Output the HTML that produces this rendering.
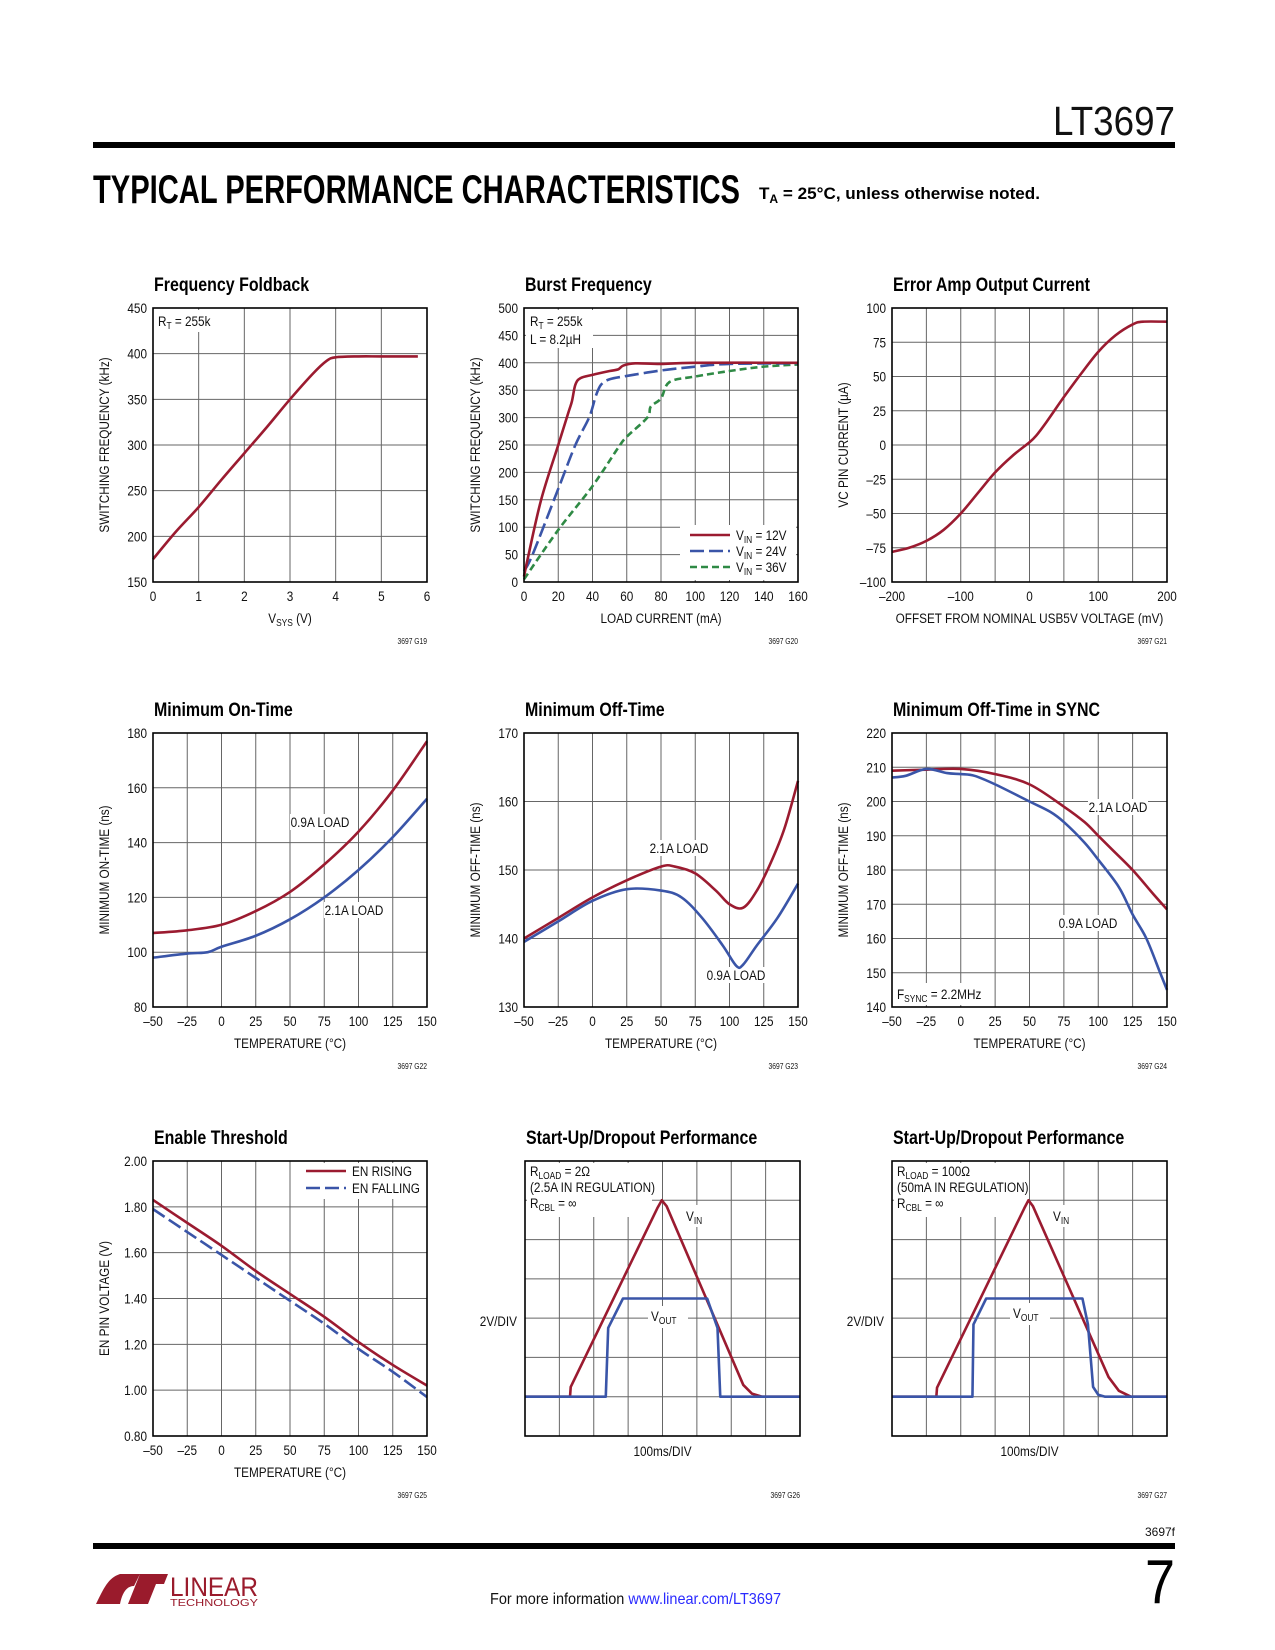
<!DOCTYPE html>
<html><head><meta charset="utf-8"><style>
html,body{margin:0;padding:0;background:#fff;}
svg{display:block;font-family:"Liberation Sans Narrow","Liberation Sans",sans-serif;}
</style></head><body>
<svg id="page" xmlns="http://www.w3.org/2000/svg" width="1275" height="1650" viewBox="0 0 1275 1650">
<rect x="0" y="0" width="1275" height="1650" fill="#fff"/>
<text x="1175" y="135" font-size="41" text-anchor="end" fill="#111" textLength="122" lengthAdjust="spacingAndGlyphs">LT3697</text>
<rect x="93" y="142" width="1082" height="6" fill="#000"/>
<text x="93" y="203" font-size="40" font-weight="bold" textLength="647" lengthAdjust="spacingAndGlyphs" fill="#000">TYPICAL PERFORMANCE CHARACTERISTICS</text>
<text x="759" y="199" font-size="17" font-weight="bold" fill="#000" textLength="281" lengthAdjust="spacingAndGlyphs">T<tspan dy="4" font-size="12">A</tspan><tspan dy="-4"> = 25°C, unless otherwise noted.</tspan></text>
<text x="1175" y="1536" font-size="12" text-anchor="end" fill="#111" textLength="30" lengthAdjust="spacingAndGlyphs">3697f</text>
<rect x="93" y="1543" width="1082" height="6" fill="#000"/>
<text x="1175" y="1603" font-size="62" text-anchor="end" fill="#000" textLength="30" lengthAdjust="spacingAndGlyphs">7</text>
<text x="490" y="1604" font-size="16" fill="#111" textLength="291" lengthAdjust="spacingAndGlyphs">For more information <tspan fill="#2a2aff">www.linear.com/LT3697</tspan></text>
<g>
<path d="M96,1604 C104,1588 108,1578 120,1574 L140,1574 L134,1586 C126,1586 122,1594 120,1604 Z M128,1604 L140,1574 L168,1574 L164,1584 L156,1584 L148,1604 Z" fill="#9a1b2c"/>
<text x="170" y="1596" font-size="27" fill="#9a1b2c" textLength="88" lengthAdjust="spacingAndGlyphs">LINEAR</text>
<text x="170" y="1606" font-size="10" fill="#9a1b2c" textLength="88" lengthAdjust="spacingAndGlyphs">TECHNOLOGY</text>
</g>
</svg>
<script>
// ---------- data ----------
const c1X=[0,0.5,1,1.5,2,2.5,3,3.5,3.8,4,4.5,5,5.8];
const c1Y=[175,205,232,262,291,320,350,378,392,396,397,397,397];
const c1XTicks=[0,1,2,3,4,5,6];
const c1YTicks=[150,200,250,300,350,400,450];

const c2X12=[0,2,10,20,26,28,30,33,40,50,55,58,65,80,100,160];
const c2Y12=[10,40,150,250,310,330,360,372,378,385,388,395,399,398,400,400];
const c2X24=[0,5,20,30,38,42,45,50,60,80,100,120,160];
const c2Y24=[20,50,170,250,300,340,360,370,376,386,393,398,399];
const c2X36=[0,20,40,55,60,72,74,80,85,100,120,140,160];
const c2Y36=[5,95,175,245,265,300,320,335,365,375,385,393,397];
const c2XTicks=[0,20,40,60,80,100,120,140,160];
const c2YTicks=[0,50,100,150,200,250,300,350,400,450,500];

const c3X=[-200,-175,-150,-125,-100,-75,-50,-25,0,10,25,50,75,100,125,150,165,200];
const c3Y=[-78,-75,-70,-62,-50,-35,-20,-8,2,7,17,35,52,68,80,88,90,90];
const c3XTicks=[-200,-100,0,100,200];
const c3YTicks=[-100,-75,-50,-25,0,25,50,75,100];

const tempX=[-50,-25,0,25,50,75,100,125,150];
const c4Red=[107,108,110,115,122,132,144,159,177];
const c4BlueX=[-50,-25,-10,0,25,50,75,100,125,150];
const c4Blue=[98,99.5,100,102,106,112,120,130,142,156];
const c4YTicks=[80,100,120,140,160,180];

const c5RedX=[-50,-25,0,25,50,60,75,90,100,110,120,130,140,150];
const c5Red=[140,143,146,148.5,150.5,150.5,149.5,147,145,144.5,147,151,156,163];
const c5BlueX=[-50,-25,0,25,50,65,80,95,105,110,120,135,150];
const c5Blue=[139.5,142.5,145.5,147.2,147,146,143,139,136,136.2,139,143,148];
const c5YTicks=[130,140,150,160,170];

const c6RedX=[-50,-25,0,25,50,75,90,100,110,125,140,150];
const c6Red=[209,209.3,209.5,208,205,198.5,194,190,186,180,173,168.5];
const c6BlueX=[-50,-40,-25,-10,0,10,25,50,65,75,90,100,115,125,135,145,150];
const c6Blue=[207,207.5,209.5,208.3,208,207.5,205,200,197,194,188,183,175,167,160,150,145];
const c6YTicks=[140,150,160,170,180,190,200,210,220];

const c7Rise=[1.83,1.73,1.63,1.52,1.42,1.32,1.21,1.11,1.02];
const c7Fall=[1.79,1.69,1.59,1.49,1.39,1.29,1.18,1.08,0.97];
const c7YTicks=[0.8,1.0,1.2,1.4,1.6,1.8,2.0];
const c7YLabels=["0.80","1.00","1.20","1.40","1.60","1.80","2.00"];

const c8VinX=[0,1.31,1.33,3.85,3.98,4.12,6.35,6.6,6.9,8];
const c8VinY=[1,1,1.25,5.8,6.0,5.85,1.3,1.08,1.0,1];
const c8VoutX=[0,2.35,2.42,2.85,5.3,5.6,5.68,8];
const c8VoutY=[1,1,2.75,3.5,3.5,2.75,1,1];
const c9VinX=[0,1.29,1.31,3.85,3.97,4.1,6.3,6.6,6.95,8];
const c9VinY=[1,1,1.23,5.8,6.0,5.85,1.5,1.15,1.0,1];
const c9VoutX=[0,2.34,2.37,2.74,5.54,5.7,5.85,6.0,6.2,8];
const c9VoutY=[1,1,2.84,3.5,3.5,2.84,1.25,1.05,1,1];

const RED='#9b1b30', BLUE='#3a55a8', GREEN='#2f8a45';
const NS='http://www.w3.org/2000/svg';
const svg=document.getElementById('page');
const CX=0.84;
function el(tag,parent,attrs){const e=document.createElementNS(NS,tag);for(const k in attrs)e.setAttribute(k,attrs[k]);parent.appendChild(e);return e;}
function pathD(pts,smooth){
  if(!smooth) return 'M'+pts.map(p=>p[0].toFixed(2)+','+p[1].toFixed(2)).join('L');
  let d='M'+pts[0][0].toFixed(2)+','+pts[0][1].toFixed(2);
  for(let i=0;i<pts.length-1;i++){
    const p0=pts[i-1]||pts[i],p1=pts[i],p2=pts[i+1],p3=pts[i+2]||pts[i+1];
    const a=[p1[0]+(p2[0]-p0[0])/6,p1[1]+(p2[1]-p0[1])/6];
    const b=[p2[0]-(p3[0]-p1[0])/6,p2[1]-(p3[1]-p1[1])/6];
    d+='C'+a[0].toFixed(2)+','+a[1].toFixed(2)+' '+b[0].toFixed(2)+','+b[1].toFixed(2)+' '+p2[0].toFixed(2)+','+p2[1].toFixed(2);
  }
  return d;
}
function txt(parent,x,y,size,anchor,html,extra,rot){
  const tr='translate('+x+' '+y+')'+(rot?' rotate('+rot+')':'')+' scale('+CX+' 1)';
  const t=el('text',parent,Object.assign({x:0,y:0,'font-size':size,'text-anchor':anchor,fill:'#111',transform:tr},extra||{}));
  t.innerHTML=html;return t;
}
const sub=(s)=>'<tspan dy="3" font-size="10">'+s+'</tspan><tspan dy="-3">';

function drawChart(c){
  const g=el('g',svg,{});
  
  
  const L=c.l,T=c.t,W=c.w,H=c.h;
  const sx=v=>L+(v-c.xd[0])/(c.xd[1]-c.xd[0])*W;
  const sy=v=>T+H-(v-c.yd[0])/(c.yd[1]-c.yd[0])*H;
  const title=txt(g,L+1,T-17,19,'start',c.title,{'font-weight':'bold',fill:'#000'});
  
  
  const grid=el('g',g,{stroke:'#666','stroke-width':1});
  
  
  for(let i=1;i<c.nx;i++){const x=L+W*i/c.nx;el('line',grid,{x1:x,y1:T,x2:x,y2:T+H});}
  for(let i=1;i<c.ny;i++){const y=T+H*i/c.ny;el('line',grid,{x1:L,y1:y,x2:L+W,y2:y});}
  (c.bgs||[]).forEach(b=>{el('rect',g,{x:b[0],y:b[1],width:b[2],height:b[3],fill:'#fff'});});
  if(c.xTicks){
    const xa=el('g',g,{});
    
    
    c.xTicks.forEach((v,i)=>{txt(xa,sx(v),T+H+19,14,'middle',c.xLabels?c.xLabels[i]:String(v));});
  }
  if(c.yTicks){
    const ya=el('g',g,{});
    
    
    c.yTicks.forEach((v,i)=>{txt(ya,L-6,sy(v)+5,14,'end',c.yLabels?c.yLabels[i]:String(v));});
  }
  if(c.xTitle){const t=txt(g,L+W/2,T+H+41,14,'middle',c.xTitle);
    
    }
  if(c.yTitle){const t=txt(g,L-44,T+H/2,14,'middle',c.yTitle,{},-90);
    
    }
  c.series.forEach(s=>{
    const pts=s.x.map((v,i)=>[sx(v),sy(s.y[i])]);
    const p=el('path',g,{d:pathD(pts,s.smooth!==false),fill:'none',stroke:s.color,'stroke-width':2.6,'stroke-linejoin':'round','stroke-linecap':'butt'});
    if(s.dash)p.setAttribute('stroke-dasharray',s.dash);
    
    
  });
  el('rect',g,{x:L,y:T,width:W,height:H,fill:'none',stroke:'#000','stroke-width':1.6});
  (c.notes||[]).forEach(n=>{const t=txt(g,n[0],n[1],14,n[2]||'start',n[3]);
    
    });
  (c.legend||[]).forEach(lg=>{
    const lgG=el('g',g,{});
    
    
    const ln=el('line',lgG,{x1:lg.x1,y1:lg.y,x2:lg.x2,y2:lg.y,stroke:lg.color,'stroke-width':2.6});
    if(lg.dash)ln.setAttribute('stroke-dasharray',lg.dash);
    txt(lgG,lg.x2+6,lg.y+5,14,'start',lg.text);
  });
  if(c.code){const t=txt(g,L+W,T+H+62,8,'end',c.code);
    
    }
  if(c.scopeY){txt(g,L-8,T+H*0.6,14,'end','2V/DIV');txt(g,L+W/2,T+H+20,14,'middle','100ms/DIV');}
}

const tempLabels=['–50','–25','0','25','50','75','100','125','150'];
drawChart({name:'frequency-foldback-chart',title:'Frequency Foldback',l:153,t:308,w:274,h:274,xd:[0,6],yd:[150,450],nx:6,ny:6,
  xTicks:c1XTicks,yTicks:c1YTicks,xTitle:'V'+sub('SYS')+' (V)</tspan>',yTitle:'SWITCHING FREQUENCY (kHz)',code:'3697 G19',
  bgs:[[155,310,60,22]],notes:[[158,326,'start','R'+sub('T')+' = 255k</tspan>']],
  series:[{name:'frequency-curve',x:c1X,y:c1Y,color:RED}]});

drawChart({name:'burst-frequency-chart',title:'Burst Frequency',l:524,t:308,w:274,h:274,xd:[0,160],yd:[0,500],nx:8,ny:10,
  xTicks:c2XTicks,yTicks:c2YTicks,xTitle:'LOAD CURRENT (mA)',yTitle:'SWITCHING FREQUENCY (kHz)',code:'3697 G20',
  bgs:[[526,310,67,38],[680,525,116,55]],
  notes:[[530,326,'start','R'+sub('T')+' = 255k</tspan>'],[530,344,'start','L = 8.2µH']],
  legend:[{x1:690,x2:730,y:535,color:RED,text:'V'+sub('IN')+' = 12V</tspan>'},
          {x1:690,x2:730,y:551,color:BLUE,dash:'14 5',text:'V'+sub('IN')+' = 24V</tspan>'},
          {x1:690,x2:730,y:567,color:GREEN,dash:'7 4',text:'V'+sub('IN')+' = 36V</tspan>'}],
  series:[{name:'vin-36v-line',x:c2X36,y:c2Y36,color:GREEN,dash:'7 4'},
          {name:'vin-24v-line',x:c2X24,y:c2Y24,color:BLUE,dash:'14 5'},
          {name:'vin-12v-line',x:c2X12,y:c2Y12,color:RED}]});

drawChart({name:'error-amp-chart',title:'Error Amp Output Current',l:892,t:308,w:275,h:274,xd:[-200,200],yd:[-100,100],nx:8,ny:8,
  xTicks:c3XTicks,xLabels:['–200','–100','0','100','200'],yTicks:c3YTicks,yLabels:['–100','–75','–50','–25','0','25','50','75','100'],
  xTitle:'OFFSET FROM NOMINAL USB5V VOLTAGE (mV)',yTitle:'VC PIN CURRENT (µA)',code:'3697 G21',
  series:[{name:'vc-current-curve',x:c3X,y:c3Y,color:RED}]});

drawChart({name:'minimum-on-time-chart',title:'Minimum On-Time',l:153,t:733,w:274,h:274,xd:[-50,150],yd:[80,180],nx:8,ny:5,
  xTicks:tempX,xLabels:tempLabels,yTicks:c4YTicks,xTitle:'TEMPERATURE (°C)',yTitle:'MINIMUM ON-TIME (ns)',code:'3697 G22',
  bgs:[[290,814,60,16],[324,902,60,16]],
  notes:[[320,827,'middle','0.9A LOAD'],[354,915,'middle','2.1A LOAD']],
  series:[{name:'load-0.9a-line',x:tempX,y:c4Red,color:RED},{name:'load-2.1a-line',x:c4BlueX,y:c4Blue,color:BLUE}]});

drawChart({name:'minimum-off-time-chart',title:'Minimum Off-Time',l:524,t:733,w:274,h:274,xd:[-50,150],yd:[130,170],nx:8,ny:4,
  xTicks:tempX,xLabels:tempLabels,yTicks:c5YTicks,xTitle:'TEMPERATURE (°C)',yTitle:'MINIMUM OFF-TIME (ns)',code:'3697 G23',
  bgs:[[649,840,60,16],[706,967,60,16]],
  notes:[[679,853,'middle','2.1A LOAD'],[736,980,'middle','0.9A LOAD']],
  series:[{name:'load-2.1a-line',x:c5RedX,y:c5Red,color:RED},{name:'load-0.9a-line',x:c5BlueX,y:c5Blue,color:BLUE}]});

drawChart({name:'off-time-sync-chart',title:'Minimum Off-Time in SYNC',l:892,t:733,w:275,h:274,xd:[-50,150],yd:[140,220],nx:8,ny:8,
  xTicks:tempX,xLabels:tempLabels,yTicks:c6YTicks,xTitle:'TEMPERATURE (°C)',yTitle:'MINIMUM OFF-TIME (ns)',code:'3697 G24',
  bgs:[[1088,799,60,16],[1058,915,60,16],[894,983,92,22]],
  notes:[[1118,812,'middle','2.1A LOAD'],[1088,928,'middle','0.9A LOAD'],[897,999,'start','F'+sub('SYNC')+' = 2.2MHz</tspan>']],
  series:[{name:'load-2.1a-line',x:c6RedX,y:c6Red,color:RED},{name:'load-0.9a-line',x:c6BlueX,y:c6Blue,color:BLUE}]});

drawChart({name:'enable-threshold-chart',title:'Enable Threshold',l:153,t:1161,w:274,h:275,xd:[-50,150],yd:[0.8,2.0],nx:8,ny:6,
  xTicks:tempX,xLabels:tempLabels,yTicks:c7YTicks,yLabels:c7YLabels,xTitle:'TEMPERATURE (°C)',yTitle:'EN PIN VOLTAGE (V)',code:'3697 G25',
  bgs:[[300,1163,125,36]],
  legend:[{x1:306,x2:346,y:1171,color:RED,text:'EN RISING'},{x1:306,x2:346,y:1188,color:BLUE,dash:'14 5',text:'EN FALLING'}],
  series:[{name:'en-rising-line',x:tempX,y:c7Rise,color:RED},{name:'en-falling-line',x:tempX,y:c7Fall,color:BLUE,dash:'14 5'}]});

drawChart({name:'startup-dropout-2ohm-chart',title:'Start-Up/Dropout Performance',l:525,t:1161,w:275,h:275,xd:[0,8],yd:[0,7],nx:8,ny:7,scopeY:true,code:'3697 G26',
  bgs:[[527,1163,125,54],[680,1205,30,22],[648,1306,40,22]],
  notes:[[530,1176,'start','R'+sub('LOAD')+' = 2Ω</tspan>'],[530,1192,'start','(2.5A IN REGULATION)'],[530,1208,'start','R'+sub('CBL')+' = ∞</tspan>'],
         [686,1221,'start','V'+sub('IN')+'</tspan>'],[651,1321,'start','V'+sub('OUT')+'</tspan>']],
  series:[{name:'vin-trace',x:c8VinX,y:c8VinY,color:RED,smooth:false},{name:'vout-trace',x:c8VoutX,y:c8VoutY,color:BLUE,smooth:false}]});

drawChart({name:'startup-dropout-100ohm-chart',title:'Start-Up/Dropout Performance',l:892,t:1161,w:275,h:275,xd:[0,8],yd:[0,7],nx:8,ny:7,scopeY:true,code:'3697 G27',
  bgs:[[894,1163,135,54],[1047,1205,30,22],[1010,1303,40,22]],
  notes:[[897,1176,'start','R'+sub('LOAD')+' = 100Ω</tspan>'],[897,1192,'start','(50mA IN REGULATION)'],[897,1208,'start','R'+sub('CBL')+' = ∞</tspan>'],
         [1053,1221,'start','V'+sub('IN')+'</tspan>'],[1013,1318,'start','V'+sub('OUT')+'</tspan>']],
  series:[{name:'vin-trace',x:c9VinX,y:c9VinY,color:RED,smooth:false},{name:'vout-trace',x:c9VoutX,y:c9VoutY,color:BLUE,smooth:false}]});
</script>
</body></html>
